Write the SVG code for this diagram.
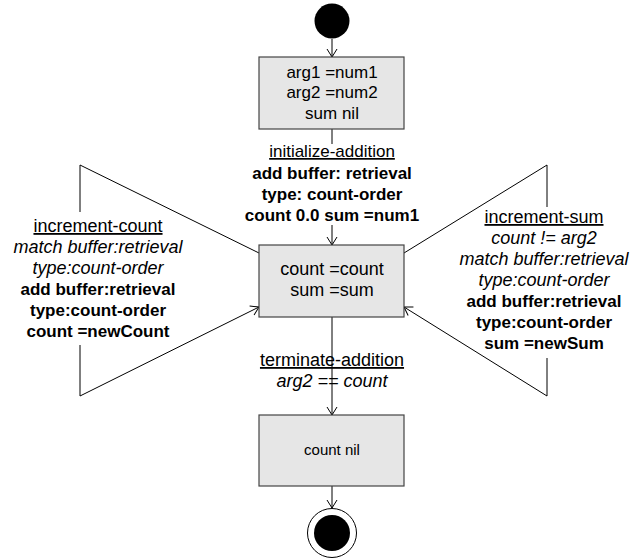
<svg xmlns="http://www.w3.org/2000/svg" width="641" height="558" viewBox="0 0 641 558">
<style>
text{font-family:"Liberation Sans",Arial,sans-serif;font-size:17px;fill:#000;text-anchor:middle}
.s{font-size:18px}
.b{font-weight:bold}
.i{font-style:italic}
.u{text-decoration:underline}
.box{fill:#e6e6e6;stroke:#444;stroke-width:1.2}
.ln{fill:none;stroke:#000;stroke-width:1}
</style>
<defs>
<marker id="arr" markerUnits="userSpaceOnUse" markerWidth="12" markerHeight="12" viewBox="-9 -6 10 12" refX="0" refY="0" orient="auto">
<path d="M-8,-5 L0,0 L-8,5" fill="none" stroke="#000" stroke-width="1"/>
</marker>
</defs>
<rect width="641" height="558" fill="#fff"/>
<g id="connectors">
<line class="ln" x1="332" y1="39" x2="332" y2="57" marker-end="url(#arr)"/>
<line class="ln" x1="332" y1="129" x2="332" y2="144"/>
<line class="ln" x1="332" y1="225" x2="332" y2="245" marker-end="url(#arr)"/>
<line class="ln" x1="332" y1="317" x2="332" y2="415" marker-end="url(#arr)"/>
<line class="ln" x1="332" y1="486" x2="332" y2="508" marker-end="url(#arr)"/>
<polyline class="ln" points="259,253 80,165 80,212"/>
<polyline class="ln" points="80,345 80,396 259,307" marker-end="url(#arr)"/>
<polyline class="ln" points="404,253 547,165 547,207"/>
<polyline class="ln" points="547,358 547,396 404,307" marker-end="url(#arr)"/>
</g>
<g id="start"><circle cx="332" cy="21" r="17.5" fill="#000"/></g>
<g id="init-box">
<rect class="box" x="259" y="57" width="145" height="72"/>
<text x="332" y="78">arg1 =num1</text>
<text x="332" y="98">arg2 =num2</text>
<text x="332" y="119">sum nil</text>
</g>
<g id="label-init">
<text class="u" x="332" y="157">initialize-addition</text>
<text class="b" x="332" y="179">add buffer: retrieval</text>
<text class="b" x="332" y="200">type: count-order</text>
<text class="b" x="332" y="221">count 0.0 sum =num1</text>
</g>
<g id="loop-box">
<rect class="box" x="259" y="245" width="145" height="72"/>
<text class="s" x="332" y="275">count =count</text>
<text class="s" x="332" y="296">sum =sum</text>
</g>
<g id="label-count">
<text class="u s" x="98" y="232">increment-count</text>
<text class="i s" x="98" y="253">match buffer:retrieval</text>
<text class="i s" x="98" y="274">type:count-order</text>
<text class="b" x="98" y="295">add buffer:retrieval</text>
<text class="b" x="98" y="316">type:count-order</text>
<text class="b" x="98" y="337">count =newCount</text>
</g>
<g id="label-sum">
<text class="u s" x="544" y="223">increment-sum</text>
<text class="i s" x="544" y="244">count != arg2</text>
<text class="i s" x="544" y="265">match buffer:retrieval</text>
<text class="i s" x="544" y="286">type:count-order</text>
<text class="b" x="544" y="307">add buffer:retrieval</text>
<text class="b" x="544" y="328">type:count-order</text>
<text class="b" x="544" y="349">sum =newSum</text>
</g>
<g id="label-term">
<text class="u s" x="332" y="366">terminate-addition</text>
<text class="i s" x="332" y="387">arg2 == count</text>
</g>
<g id="end-box">
<rect class="box" x="259" y="415" width="145" height="71"/>
<text x="332" y="455" style="font-size:15px">count nil</text>
</g>
<g id="end">
<circle cx="332" cy="533" r="24.5" fill="#fff" stroke="#000" stroke-width="1"/>
<circle cx="332" cy="533" r="18" fill="#000"/>
</g>
</svg>
